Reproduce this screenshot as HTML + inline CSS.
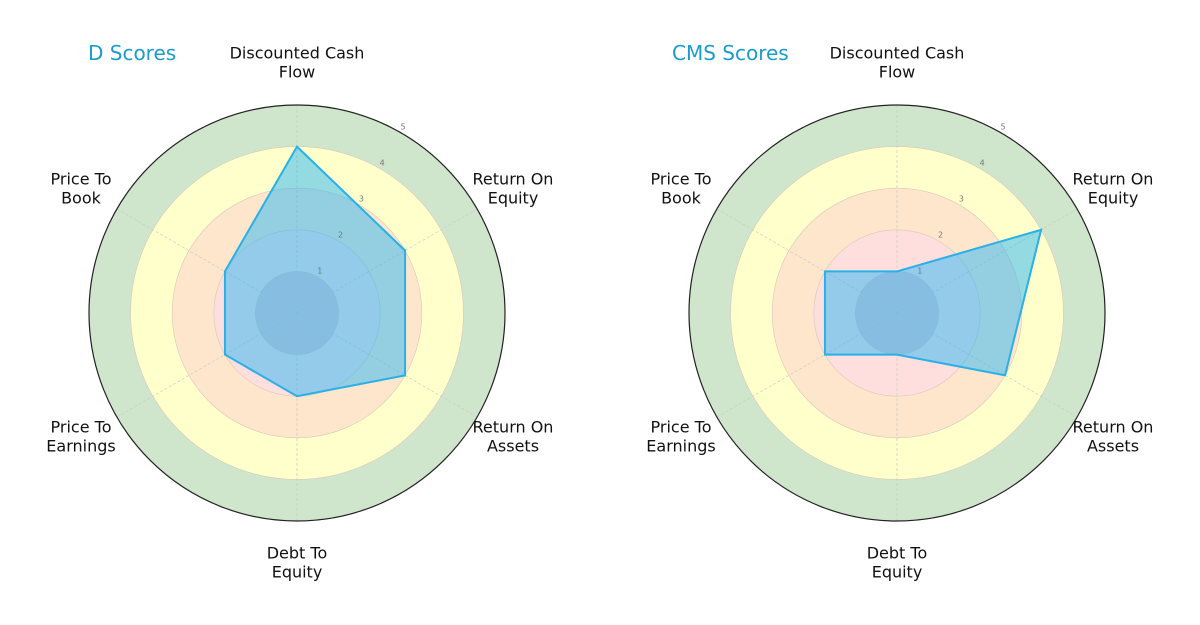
<!DOCTYPE html>
<html><head><meta charset="utf-8"><style>
body{margin:0;background:#fff;font-family:"DejaVu Sans","Liberation Sans",sans-serif}
svg{display:block}
</style></head><body>
<svg id="chart" width="1200" height="625"></svg>
<script>
const categories=["Discounted Cash\nFlow","Return On\nEquity","Return On\nAssets","Debt To\nEquity","Price To\nEarnings","Price To\nBook"];
const dScores=[4,3,3,2,2,2];
const cmsScores=[1,4,3,1,2,2];
const titles=["D Scores","CMS Scores"];
const tickLabels=["1","2","3","4","5"];
const NS="http://www.w3.org/2000/svg";
const svg=document.getElementById("chart");
function mk(tag,attrs,parent){const e=document.createElementNS(NS,tag);for(const k in attrs)e.setAttribute(k,attrs[k]);(parent||svg).appendChild(e);return e;}
const R=208,maxV=5;
const bandColors=["#e2c4cc","#ffdede","#fde6cc","#ffffcc","#d0e6cc"];
function draw(cx,cy,values,title,key,titleX){
  const g=mk("g",{});
  
  
  const rs=v=>v/maxV*R;
  const ang=i=>Math.PI/2-i*2*Math.PI/categories.length;
  const pt=(i,v)=>[cx+rs(v)*Math.cos(ang(i)),cy-rs(v)*Math.sin(ang(i))];
  for(let b=4;b>=0;b--){
    const c=mk("circle",{cx:cx,cy:cy,r:rs(b+1),fill:bandColors[b],stroke:"#d8c8b8","stroke-width":0.6},g);
    
    
  }
  for(let i=0;i<categories.length;i++){
    const [x,y]=pt(i,maxV);
    const l=mk("line",{x1:cx,y1:cy,x2:x,y2:y,stroke:"#c8c8c8","stroke-width":0.7,"stroke-dasharray":"3,2"},g);
    
    
  }
  const poly=mk("polygon",{points:values.map((v,i)=>pt(i,v).join(",")).join(" "),fill:"#29b6f6","fill-opacity":0.5,stroke:"#29b0e8","stroke-width":2,"stroke-linejoin":"miter"},g);
  
  
  const oc=mk("circle",{cx:cx,cy:cy,r:R,fill:"none",stroke:"#222","stroke-width":1.2},g);
  
  
  tickLabels.forEach((t,k)=>{
    const r=rs(k+1)+4,a=Math.PI/3;
    const tx=mk("text",{x:cx+r*Math.cos(a),y:cy-r*Math.sin(a),"font-size":8,fill:"#777","text-anchor":"middle"},g);
    tx.textContent=t;
    
    
  });
  categories.forEach((c,i)=>{
    const a=ang(i),r=R+56;
    const s0=Math.sin(a);
    let x=cx+r*Math.cos(a),y=cy-r*s0+(s0>0?8:-8);
    if(i===0)y=cy-R-42; if(i===3)y=cy+R+42;
    if(i!==0&&i!==3){x=cx+(Math.cos(a)>0?216:-216);}
    const tx=mk("text",{x:x,y:y,"font-size":16,fill:"#111","text-anchor":"middle"},g);
    
    
    const lines=c.split("\n");
    lines.forEach((ln,j)=>{const s=mk("tspan",{x:x,dy:j===0?(-(lines.length-1)*9.5+5):19},tx);s.textContent=ln;});
  });
  const tt=mk("text",{x:titleX,y:60,"font-size":20,fill:"#1a9ccc"},g);
  tt.textContent=title;
  
  
}
draw(297,313,dScores,titles[0],"d",88);
draw(897,313,cmsScores,titles[1],"cms",672);
</script>
</body></html>
